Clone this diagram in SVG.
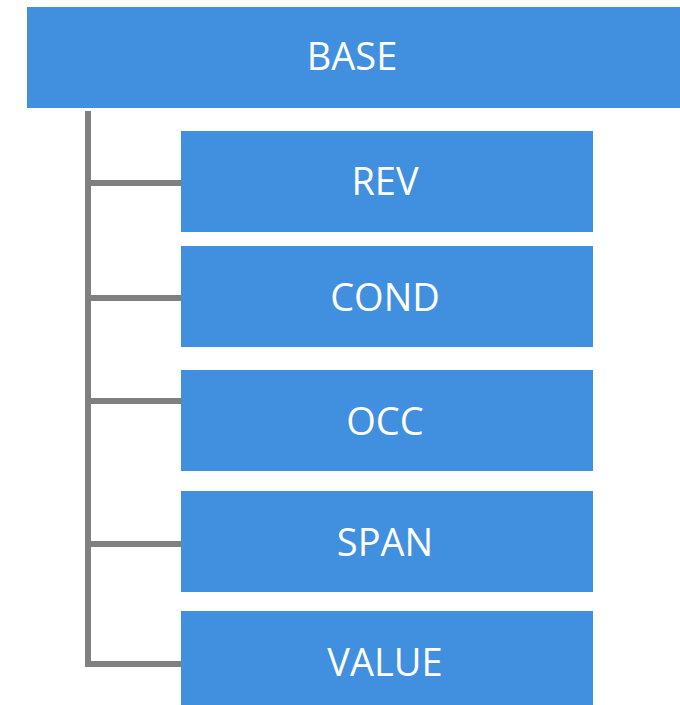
<svg xmlns="http://www.w3.org/2000/svg" width="680" height="705" viewBox="0 0 680 705">
  <style>
    .box { fill: #4190df; }
    .lbl { fill: #ffffff; font-family: "Open Sans", "Liberation Sans", sans-serif; font-size: 38px; text-anchor: middle; }
    .conn { stroke: #808080; stroke-width: 6; fill: none; }
  </style>
  <rect width="680" height="705" fill="#ffffff"/>
  <g id="connectors">
    <path class="conn" d="M88 111 V667"/>
    <path class="conn" d="M88 183 H181"/>
    <path class="conn" d="M88 298 H181"/>
    <path class="conn" d="M88 401 H181"/>
    <path class="conn" d="M88 544 H181"/>
    <path class="conn" d="M85 664 H181"/>
  </g>
  <g id="base">
    <rect class="box" x="27" y="7" width="653" height="101"/>
    <text class="lbl" x="352" y="70">BASE</text>
  </g>
  <g id="rev">
    <rect class="box" x="181" y="131" width="412" height="101"/>
    <text class="lbl" x="385" y="195">REV</text>
  </g>
  <g id="cond">
    <rect class="box" x="181" y="246" width="412" height="101"/>
    <text class="lbl" x="385" y="311">COND</text>
  </g>
  <g id="occ">
    <rect class="box" x="181" y="370" width="412" height="101"/>
    <text class="lbl" x="385" y="435">OCC</text>
  </g>
  <g id="span">
    <rect class="box" x="181" y="491" width="412" height="101"/>
    <text class="lbl" x="385" y="556">SPAN</text>
  </g>
  <g id="value">
    <rect class="box" x="181" y="611" width="412" height="101"/>
    <text class="lbl" x="385" y="676">VALUE</text>
  </g>
</svg>
